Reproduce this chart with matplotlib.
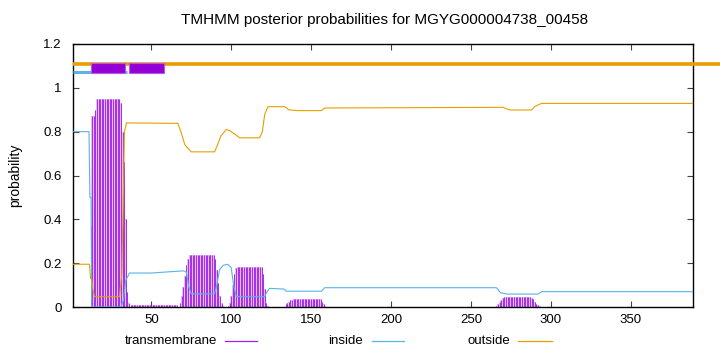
import numpy as np
import matplotlib
matplotlib.use("Agg")
import matplotlib.pyplot as plt
from matplotlib.patches import Rectangle
from matplotlib.lines import Line2D

plt.rcParams['font.family'] = ['Liberation Sans', 'DejaVu Sans']

seq_len = 389
title = "TMHMM posterior probabilities for MGYG000004738_00458"

# colours (gnuplot defaults used by TMHMM)
c_tm = '#9400d3'
c_in = '#56b4e9'
c_out = '#e69f00'

# transmembrane posterior, per residue, given in runs (first residue, values)
tm_runs = [
    (12, [0.37, 0.87, 0.87, 0.90, 0.95, 0.95, 0.95, 0.95, 0.95, 0.95, 0.95,
          0.95, 0.95, 0.95, 0.95, 0.95, 0.95, 0.95, 0.95, 0.93, 0.80, 0.66,
          0.40, 0.07, 0.02]),
    (37, [0.008] * 30),
    (68, [0.02, 0.05, 0.09, 0.14, 0.19, 0.22, 0.235, 0.237, 0.237, 0.237,
          0.237, 0.237, 0.237, 0.237, 0.237, 0.237, 0.237, 0.237, 0.237,
          0.237, 0.237, 0.237, 0.22, 0.17, 0.11, 0.05, 0.02, 0.005]),
    (98, [0.005, 0.02, 0.05, 0.10, 0.15, 0.18, 0.184, 0.184, 0.184, 0.184,
          0.184, 0.184, 0.184, 0.184, 0.184, 0.184, 0.184, 0.184, 0.184,
          0.184, 0.184, 0.184, 0.15, 0.08, 0.02, 0.005]),
    (134, [0.015, 0.02, 0.025, 0.03, 0.033, 0.036, 0.036, 0.036, 0.036,
           0.036, 0.036, 0.036, 0.036, 0.036, 0.036, 0.036, 0.036, 0.036,
           0.036, 0.036, 0.036, 0.036, 0.036, 0.025, 0.012, 0.005]),
    (266, [0.005, 0.015, 0.025, 0.033, 0.04, 0.045, 0.045, 0.045, 0.045,
           0.045, 0.045, 0.045, 0.045, 0.045, 0.045, 0.045, 0.045, 0.045,
           0.045, 0.045, 0.045, 0.045, 0.04, 0.035, 0.025, 0.015, 0.008,
           0.003]),
]

# inside posterior (read at the break points of the curve)
in_x = [1, 11, 11.6, 12.3, 12.7, 31, 32.5, 34, 36.3, 50, 60, 70, 71.9, 73.5,
        75, 89.6, 91, 92.7, 95, 97.7, 100, 101.5, 103.2, 120.9, 122.5, 124,
        133, 134.5, 156.5, 158.5, 266, 268.5, 272.6, 292, 294.3, 389]
in_y = [0.80, 0.80, 0.50, 0.50, 0.0, 0.0, 0.03, 0.12, 0.155, 0.155, 0.16,
        0.165, 0.16, 0.09, 0.06, 0.06, 0.10, 0.17, 0.19, 0.195, 0.18, 0.10,
        0.047, 0.047, 0.07, 0.085, 0.082, 0.072, 0.072, 0.088, 0.088, 0.065,
        0.059, 0.059, 0.07, 0.07]

# outside posterior
out_x = [1, 11.3, 12, 12.7, 13.5, 14.4, 30.1, 31.5, 32.5, 33.2, 34.5, 66.6,
         68.5, 71, 75, 89.6, 91.5, 93.5, 96.9, 99, 102, 105.3, 117.8, 119.5,
         121, 123, 133.5, 136, 141.6, 156.5, 158.5, 270.2, 272, 274.4, 288,
         290, 292, 294.3, 389]
out_y = [0.195, 0.195, 0.13, 0.126, 0.08, 0.047, 0.047, 0.15, 0.50, 0.80,
         0.84, 0.838, 0.80, 0.74, 0.708, 0.708, 0.74, 0.78, 0.81, 0.805,
         0.79, 0.772, 0.772, 0.80, 0.88, 0.914, 0.914, 0.90, 0.896, 0.896,
         0.908, 0.911, 0.905, 0.899, 0.899, 0.915, 0.922, 0.929, 0.929]

# predicted topology bar at the top
tm_boxes = [(12, 33.8), (35.9, 57.8)]
inside_top = [(1, 34.9)]

fig = plt.figure(figsize=(7.2, 3.52), dpi=100)
ax = fig.add_axes([73 / 720, 45 / 352, 620 / 720, 263 / 352])

# transmembrane as impulses
for start, vals in tm_runs:
    pos = np.arange(start, start + len(vals))
    ax.fill_between(pos, 0, vals, step='mid', color='#e2bdf3', lw=0, zorder=1)
    ax.vlines(pos, 0, vals, color='#a62ee6', lw=0.7, zorder=2)

ax.plot(in_x, in_y, color=c_in, lw=0.8, zorder=3)
ax.plot(out_x, out_y, color=c_out, lw=0.8, zorder=3)

# topology line
ax.plot([1, 406], [1.111, 1.111], color=c_out, lw=2.6, clip_on=False,
        solid_capstyle='butt', zorder=4)
for a, b in inside_top:
    ax.plot([a, b], [1.072, 1.072], color=c_in, lw=2.2,
            solid_capstyle='butt', zorder=4)
for a, b in tm_boxes:
    ax.add_patch(Rectangle((a, 1.068), b - a, 0.044, facecolor=c_tm,
                           edgecolor='#b45ae6', lw=0.8, zorder=5))

ax.set_xlim(1, seq_len)
ax.set_ylim(0, 1.2)
ax.set_xticks([50, 100, 150, 200, 250, 300, 350])
ax.set_yticks([0, 0.2, 0.4, 0.6, 0.8, 1.0, 1.2])
ax.set_yticklabels(['0', '0.2', '0.4', '0.6', '0.8', '1', '1.2'])
ax.tick_params(direction='in', length=4, width=0.8, labelsize=9.5,
               top=True, right=True, color='#444444')
ax.tick_params(axis='y', pad=8)
ax.tick_params(axis='x', pad=5)
for sp in ax.spines.values():
    sp.set_linewidth(1.0)
ax.set_ylabel('probability', fontsize=10, labelpad=15)
fig.text(385 / 720, 1 - 20 / 352, title, ha='center', va='center',
         fontsize=11)

# legend row under the axis
ly = 1 - 341 / 352
legend_items = [('transmembrane', '#a020f0', 217, 225, 257),
                ('inside', c_in, 363, 372, 404),
                ('outside', c_out, 510, 518, 552)]
for label, col, tx, l0, l1 in legend_items:
    fig.text(tx / 720, ly, label, ha='right', va='center', fontsize=9.5)
    fig.add_artist(Line2D([l0 / 720, l1 / 720], [ly, ly], color=col, lw=0.9,
                          transform=fig.transFigure))

fig.savefig('out.png', dpi=100)
